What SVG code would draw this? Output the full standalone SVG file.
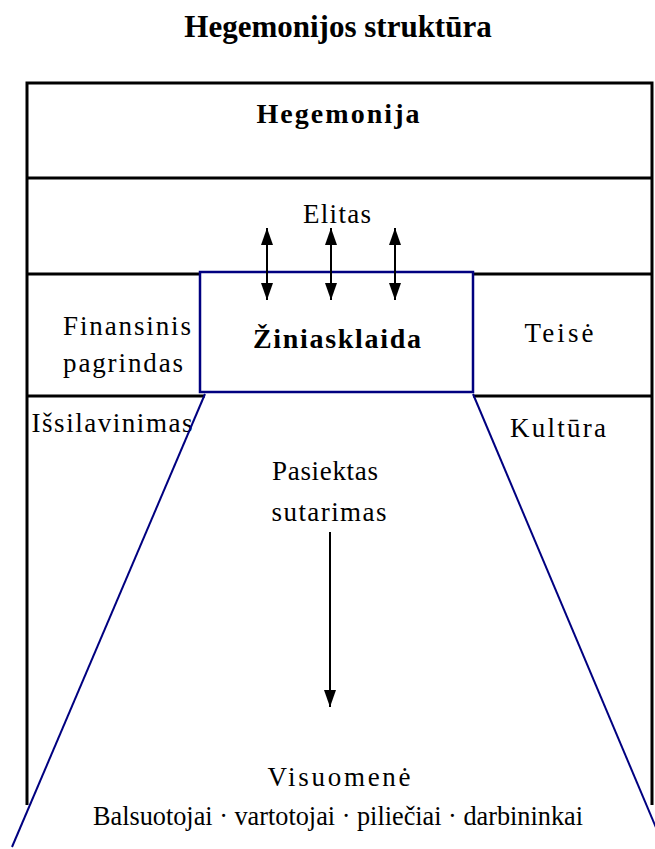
<svg xmlns="http://www.w3.org/2000/svg" width="655" height="849" viewBox="0 0 655 849">
  <defs>
    <style>
      .frame { fill: none; stroke: #000; stroke-width: 3; }
      .blue { fill: none; stroke: #000080; stroke-width: 2; }
      .box { fill: #fff; stroke: #000080; stroke-width: 2.5; }
      .arrow { stroke: #000; stroke-width: 2; fill: none; }
      .t { font-family: "Liberation Serif", "Times New Roman", serif; font-size: 27px; fill: #000; text-anchor: middle; }
      .b { font-weight: bold; font-size: 28px; }
      .title { font-family: "Liberation Serif", "Times New Roman", serif; font-size: 31px; font-weight: bold; fill: #000; text-anchor: middle; }
    </style>
    <marker id="tip" viewBox="0 0 17 12" refX="17" refY="6" markerWidth="17" markerHeight="12" markerUnits="userSpaceOnUse" orient="auto-start-reverse">
      <path d="M0,0 L17,6 L0,12 Z" fill="#000"/>
    </marker>
  </defs>

  <rect width="655" height="849" fill="#fff"/>

  <text class="title" x="338" y="37">Hegemonijos struktūra</text>

  <!-- outer frame and row dividers -->
  <g id="frame">
    <path class="frame" d="M27,805 V83 H652 V805"/>
    <line class="frame" x1="27" y1="178" x2="652" y2="178"/>
    <line class="frame" x1="27" y1="274" x2="652" y2="274"/>
    <line class="frame" x1="27" y1="396" x2="205" y2="396"/>
    <line class="frame" x1="473" y1="396" x2="652" y2="396"/>
  </g>

  <g id="hegemonija">
    <text class="t b" x="338" y="123" textLength="163" lengthAdjust="spacing">Hegemonija</text>
  </g>

  <g id="elitas">
    <text class="t" x="337" y="223" textLength="68" lengthAdjust="spacing">Elitas</text>
  </g>

  <g id="finansinis">
    <text class="t" x="127" y="335" textLength="128" lengthAdjust="spacing">Finansinis</text>
    <text class="t" x="123" y="372" textLength="120" lengthAdjust="spacing">pagrindas</text>
  </g>

  <g id="teise">
    <text class="t" x="559" y="342" textLength="69" lengthAdjust="spacing">Teisė</text>
  </g>

  <g id="issilavinimas">
    <text class="t" x="112" y="432" textLength="161" lengthAdjust="spacing">Išsilavinimas</text>
  </g>

  <g id="kultura">
    <text class="t" x="558" y="437" textLength="96" lengthAdjust="spacing">Kultūra</text>
  </g>

  <!-- media box with its funnel sides -->
  <g id="ziniasklaida">
    <rect class="box" x="200" y="272" width="273" height="120"/>
    <text class="t b" x="337" y="348" textLength="168" lengthAdjust="spacing">Žiniasklaida</text>
    <line class="blue" x1="205" y1="394" x2="12" y2="847"/>
    <line class="blue" x1="473" y1="394" x2="665" y2="849"/>
  </g>

  <g id="sutarimas">
    <text class="t" x="325" y="480" textLength="106" lengthAdjust="spacing">Pasiektas</text>
    <text class="t" x="329" y="521" textLength="115" lengthAdjust="spacing">sutarimas</text>
  </g>

  <g id="visuomene">
    <text class="t" x="339" y="786" textLength="143" lengthAdjust="spacing">Visuomenė</text>
    <text class="t" x="338" y="825" textLength="490" lengthAdjust="spacingAndGlyphs">Balsuotojai · vartotojai · piliečiai · darbininkai</text>
  </g>

  <g id="connectors">
    <line class="arrow" x1="267" y1="228" x2="267" y2="300" marker-start="url(#tip)" marker-end="url(#tip)"/>
    <line class="arrow" x1="331" y1="228" x2="331" y2="300" marker-start="url(#tip)" marker-end="url(#tip)"/>
    <line class="arrow" x1="395" y1="228" x2="395" y2="300" marker-start="url(#tip)" marker-end="url(#tip)"/>
    <line class="arrow" x1="330" y1="532" x2="330" y2="707" marker-end="url(#tip)"/>
  </g>
</svg>
